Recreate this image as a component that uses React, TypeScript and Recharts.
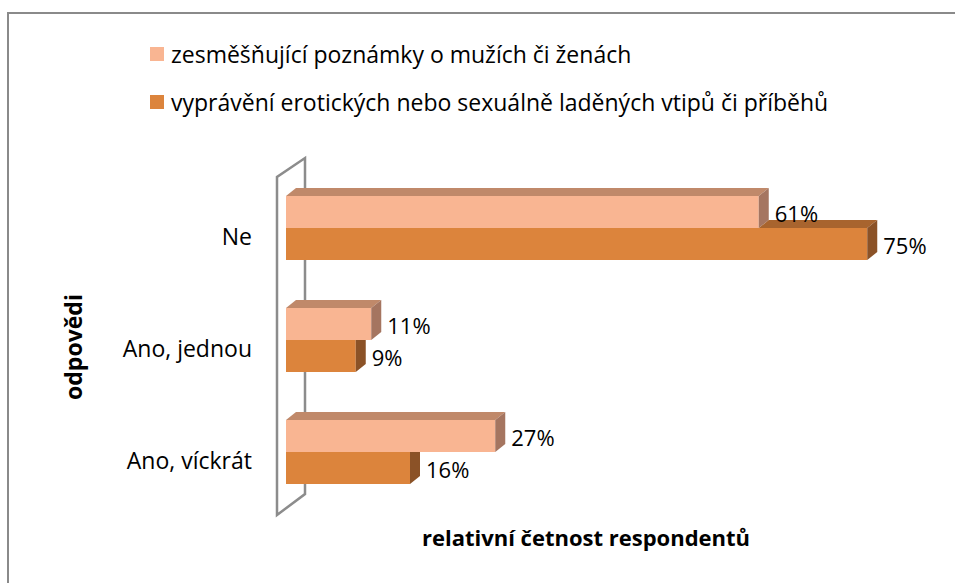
import { BarChart, Bar, XAxis, YAxis, Legend, Label, LabelList } from "recharts";

// Excel-style 3D clustered bar chart: how often respondents met two kinds of remarks.
// Depth faces are drawn by custom bar shapes, the back wall by an svg layer underneath.

const CATEGORIES = ["Ne", "Ano, jednou", "Ano, víckrát"];
const REMARKS = [61, 11, 27];
const JOKES = [75, 9, 16];
const SERIES_NAMES = [
  "zesměšňující poznámky o mužích či ženách",
  "vyprávění erotických nebo sexuálně laděných vtipů či příběhů",
];
const X_DOMAIN = [0, 80];

const DATA = CATEGORIES.map((answer, i) => ({ answer, remarks: REMARKS[i], jokes: JOKES[i] }));

const W = 955;
const H = 583;
const FONT = "'Open Sans', sans-serif";
const PLOT_LEFT = 286;
const PLOT_TOP = 172;
const PLOT_BOTTOM = 508;
const DX = 10;
const DY = 8;

const C = {
  light: "#F9B592",
  lightTop: "#C0896A",
  lightSide: "#A57560",
  dark: "#DC843C",
  darkTop: "#A8642E",
  darkSide: "#8B5227",
  wall: "#8c8c8c",
};

const SERIES = [
  { key: "remarks", label: SERIES_NAMES[0], color: C.light },
  { key: "jokes", label: SERIES_NAMES[1], color: C.dark },
];

function pts(list: number[][]) {
  return list.map((p) => p.join(",")).join(" ");
}

function LightBar(props: any) {
  const { x, y, width, height } = props;
  const r = x + width;
  const b = y + height;
  return (
    <g>
      <rect x={x} y={y} width={width} height={height} fill={C.light} />
      <polygon points={pts([[x, y], [x + DX, y - DY], [r + DX, y - DY], [r, y]])} fill={C.lightTop} />
      <polygon points={pts([[r, y], [r + DX, y - DY], [r + DX, b - DY], [r, b]])} fill={C.lightSide} />
    </g>
  );
}

// the dark bar sits right under the light one, so only the part of its top face
// that sticks out past the light bar can be seen
function DarkBar(props: any) {
  const { x, y, width, height, payload } = props;
  const r = x + width;
  const b = y + height;
  const lightR = x + (width * payload.remarks) / payload.jokes;
  const longer = r > lightR;
  return (
    <g>
      <rect x={x} y={y} width={width} height={height} fill={C.dark} />
      {longer && (
        <polygon points={pts([[lightR, y], [lightR + DX, y - DY], [r + DX, y - DY], [r, y]])} fill={C.darkTop} />
      )}
      <polygon
        points={pts(
          longer
            ? [[r, y], [r + DX, y - DY], [r + DX, b - DY], [r, b]]
            : [[r, y], [r + DX, y], [r + DX, b - DY], [r, b]]
        )}
        fill={C.darkSide}
      />
    </g>
  );
}

function ValueLabel(props: any) {
  const { x, y, width, height, value } = props;
  return (
    <text
      x={x + width + DX + 6}
      y={y + height / 2 + 1}
      dominantBaseline="central"
      fontSize={22}
      fontFamily={FONT}
      fill="#000"
    >
      {`${value}%`}
    </text>
  );
}

function AnswerTick({ x, y, payload }: any) {
  return (
    <text x={x - 34} y={y + 8} textAnchor="end" dominantBaseline="central" fontSize={23} fontFamily={FONT} fill="#000">
      {payload.value}
    </text>
  );
}

function LegendBox() {
  return (
    <div style={{ fontFamily: FONT, fontSize: 23, color: "#000" }}>
      {SERIES.map((s) => (
        <div key={s.key} style={{ display: "flex", alignItems: "center", height: 48 }}>
          <span style={{ width: 14, height: 14, background: s.color, marginRight: 7, flex: "none" }} />
          <span style={{ whiteSpace: "nowrap" }}>{s.label}</span>
        </div>
      ))}
    </div>
  );
}

export default function App() {
  return (
    <div style={{ position: "absolute", left: 0, top: 0, width: W, height: H, overflow: "hidden", background: "#fff" }}>
      <div
        style={{
          position: "absolute",
          left: 7,
          top: 12,
          width: 1000,
          height: 700,
          border: "2px solid #8a8a8a",
          boxSizing: "border-box",
        }}
      />
      <svg style={{ position: "absolute", left: 0, top: 0 }} width={W} height={H}>
        <polygon
          points={pts([
            [PLOT_LEFT - 9, PLOT_BOTTOM + 7],
            [PLOT_LEFT - 9, PLOT_TOP + 5],
            [PLOT_LEFT + 19, PLOT_TOP - 14],
            [PLOT_LEFT + 19, PLOT_BOTTOM - 14],
          ])}
          fill="none"
          stroke={C.wall}
          strokeWidth={2.5}
        />
      </svg>
      <div style={{ position: "absolute", left: 0, top: 0 }}>
        <BarChart
          width={W}
          height={H}
          data={DATA}
          layout="vertical"
          barGap={0}
          margin={{ top: PLOT_TOP, right: 49, bottom: 0, left: 86 }}
        >
          <XAxis
            type="number"
            domain={X_DOMAIN}
            axisLine={false}
            tick={false}
            tickLine={false}
            height={H - PLOT_BOTTOM}
          >
            <Label
              content={({ viewBox }: any) => (
                <text
                  x={viewBox.x + viewBox.width / 2 - 10}
                  y={viewBox.y + 29}
                  textAnchor="middle"
                  dominantBaseline="central"
                  fontSize={22}
                  fontWeight="bold"
                  fontFamily={FONT}
                  fill="#000"
                >
                  relativní četnost respondentů
                </text>
              )}
            />
          </XAxis>
          <YAxis
            type="category"
            dataKey="answer"
            width={PLOT_LEFT - 86}
            axisLine={false}
            tickLine={false}
            tickSize={0}
            tickMargin={0}
            tick={<AnswerTick />}
          >
            <Label
              content={({ viewBox }: any) => {
                const cx = 73;
                const cy = viewBox.y + viewBox.height / 2 + 7;
                return (
                  <text
                    x={cx}
                    y={cy}
                    transform={`rotate(-90 ${cx} ${cy})`}
                    textAnchor="middle"
                    dominantBaseline="central"
                    fontSize={23}
                    fontWeight="bold"
                    fontFamily={FONT}
                    fill="#000"
                  >
                    odpovědi
                  </text>
                );
              }}
            />
          </YAxis>
          <Legend
            layout="vertical"
            align="center"
            verticalAlign="middle"
            content={<LegendBox />}
            wrapperStyle={{ left: 150, top: 30, width: 750 }}
          />
          <Bar dataKey="remarks" barSize={32} shape={<LightBar />} isAnimationActive={false}>
            <LabelList dataKey="remarks" content={<ValueLabel />} />
          </Bar>
          <Bar dataKey="jokes" barSize={32} shape={<DarkBar />} isAnimationActive={false}>
            <LabelList dataKey="jokes" content={<ValueLabel />} />
          </Bar>
        </BarChart>
      </div>
    </div>
  );
}
